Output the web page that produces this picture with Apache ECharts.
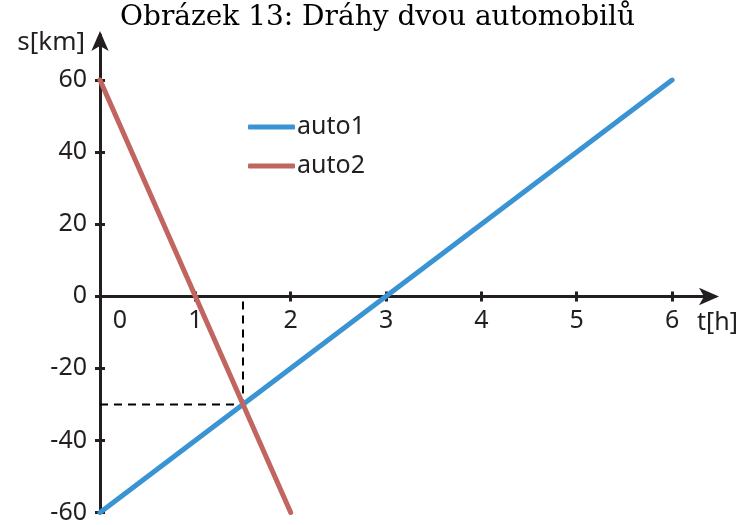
<!DOCTYPE html>
<html>
<head>
<meta charset="utf-8">
<script src="https://cdn.jsdelivr.net/npm/echarts@6/dist/echarts.min.js"></script>
<style>
  html, body { margin: 0; background: #fff; }
  #myChart { width: 743px; height: 525px; }
</style>
</head>
<body>
<div id="myChart"></div>
<script>
const titleText = "Obrázek 13: Dráhy dvou automobilů";
const auto1T = [0, 6];
const auto1S = [-60, 60];
const auto2T = [0, 2];
const auto2S = [60, -60];
const xTicks = [0, 1, 2, 3, 4, 5, 6];
const yTicks = [-60, -40, -20, 0, 20, 40, 60];
const crossT = 1.5;
const crossS = -30;

const axisColor = "#231f20";
const labelFont = "Noto Sans";

let myChart = echarts.init(document.getElementById("myChart"));

// shared axis settings
let tickStyle = { color: axisColor, width: 3 };
let xRange = { type: "value", min: 0, max: 6.45, offset: -216, position: "bottom" };
let yRange = { type: "value", min: -60, max: 72.5, position: "left" };

let option = {
  backgroundColor: "#fff",
  animation: false,
  title: {
    text: titleText,
    left: 120,
    top: 4,
    padding: 0,
    textStyle: {
      fontFamily: "DejaVu Serif",
      fontWeight: "normal",
      fontSize: 28,
      color: "#000"
    }
  },
  legend: {
    orient: "vertical",
    left: 248,
    top: 114,
    padding: 0,
    itemWidth: 47,
    itemHeight: 5,
    itemGap: 13,
    icon: "roundRect",
    data: ["auto1", "auto2"],
    textStyle: {
      fontFamily: labelFont,
      fontSize: 25,
      lineHeight: 26,
      color: axisColor,
      padding: [0, 0, 0, -3]
    }
  },
  grid: {
    left: 100,
    right: 28,
    top: 35,
    bottom: 12,
    containLabel: false
  },
  xAxis: [
    Object.assign({}, xRange, {
      name: "\n\nt[h]",
      nameLocation: "end",
      nameGap: -18,
      nameMoveOverlap: false,
      nameTextStyle: {
        fontFamily: labelFont,
        fontSize: 25,
        lineHeight: 26,
        color: axisColor,
        align: "left",
        verticalAlign: "middle"
      },
      splitLine: { show: false },
      axisLine: {
        onZero: false,
        symbol: ["none", "arrow"],
        symbolSize: [13, 20],
        symbolOffset: [0, 4],
        lineStyle: { color: axisColor, width: 3 }
      },
      axisTick: { customValues: xTicks, length: 5, lineStyle: tickStyle },
      axisLabel: {
        customValues: xTicks,
        margin: 12,
        fontFamily: labelFont,
        fontSize: 25,
        color: axisColor,
        formatter: function (v) {
          return v === 0 ? "{z|0}" : String(v);
        },
        rich: {
          z: {
            fontFamily: labelFont,
            fontSize: 25,
            color: axisColor,
            padding: [0, 0, 0, 40]
          }
        }
      }
    }),
    // other half of the tick marks
    Object.assign({}, xRange, {
      splitLine: { show: false },
      axisLine: { show: false, onZero: false },
      axisTick: { customValues: xTicks, inside: true, length: 5, lineStyle: tickStyle },
      axisLabel: { show: false }
    })
  ],
  yAxis: [
    Object.assign({}, yRange, {
      name: "s[km]",
      nameLocation: "end",
      nameGap: -8,
      nameMoveOverlap: false,
      nameTextStyle: {
        fontFamily: labelFont,
        fontSize: 26,
        color: axisColor,
        align: "right",
        verticalAlign: "middle",
        padding: [0, 15, 0, 0]
      },
      splitLine: { show: false },
      axisLine: {
        onZero: false,
        symbol: ["none", "arrow"],
        symbolSize: [13, 20],
        symbolOffset: [0, 4],
        lineStyle: { color: axisColor, width: 3 }
      },
      axisTick: { customValues: yTicks, length: 5, lineStyle: tickStyle },
      axisLabel: {
        customValues: yTicks,
        margin: 13,
        fontFamily: labelFont,
        fontSize: 25,
        color: axisColor
      }
    }),
    Object.assign({}, yRange, {
      splitLine: { show: false },
      axisLine: { show: false, onZero: false },
      axisTick: { customValues: yTicks, inside: true, length: 5, lineStyle: tickStyle },
      axisLabel: { show: false }
    })
  ],
  series: [
    {
      name: "guide",
      type: "line",
      symbol: "none",
      silent: true,
      lineStyle: { color: "#000", width: 2, type: [8, 6] },
      data: [[0, crossS], [crossT, crossS], [crossT, 0]],
      z: 1
    },
    {
      name: "auto1",
      type: "line",
      symbol: "none",
      color: "#3a93d2",
      lineStyle: { width: 5, cap: "round" },
      data: auto1T.map((t, i) => [t, auto1S[i]]),
      z: 3
    },
    {
      name: "auto2",
      type: "line",
      symbol: "none",
      color: "#c0655f",
      lineStyle: { width: 5, cap: "round" },
      data: auto2T.map((t, i) => [t, auto2S[i]]),
      z: 4
    }
  ]
};

myChart.setOption(option);
</script>
</body>
</html>
